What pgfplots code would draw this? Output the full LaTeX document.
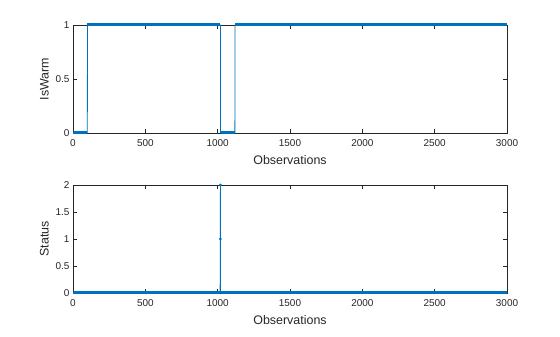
\documentclass[border=0pt]{standalone}
\usepackage{pgfplots}
\pgfplotsset{compat=1.18}
\usepackage{fontspec}
\setmainfont{Liberation Sans}
\definecolor{mblue}{rgb}{0,0.447,0.741}
\definecolor{axgray}{rgb}{0.15,0.15,0.15}
\pgfplotsset{
  myax/.style={
    scale only axis, width=434bp, height=108bp, anchor=south west,
    xmin=0, xmax=3000,
    xtick={0,500,...,3000},
    tick align=inside,
    major tick length=4bp,
    axis line style={axgray, line width=0.5bp},
    tick style={axgray, line width=0.5bp},
    every tick label/.append style={font=\fontsize{10}{12}\selectfont, text=axgray},
    label style={font=\fontsize{12.5}{14}\selectfont, text=axgray},
    /pgf/number format/assume math mode=true,
    /pgf/number format/1000 sep={},
    scaled ticks=false,
    xticklabel style={yshift=-3bp},
    xlabel={Observations},
    xlabel style={yshift=-2bp},
    ylabel style={yshift=0bp},
    clip=false,
  }
}
\begin{document}
\begin{tikzpicture}
\useasboundingbox (0,0) rectangle (560bp,337bp);
\begin{axis}[myax, at={(73bp,204bp)}, ymin=0, ymax=1, ytick={0,0.5,1},
  yticklabels={0,0.5,1}, ylabel={IsWarm}]
\addplot[mblue, line width=0.8bp] coordinates {(0,0)(99,0)(100,1)(1019,1)(1020,0)(1119,0)(1120,1)(3000,1)};
\addplot[mblue, line width=3bp] coordinates {(0,0)(99,0)};
\addplot[mblue, line width=3bp] coordinates {(100,1)(1019,1)};
\addplot[mblue, line width=3bp] coordinates {(1020,0)(1119,0)};
\addplot[mblue, line width=3bp] coordinates {(1120,1)(3000,1)};
\end{axis}
\begin{axis}[myax, at={(73bp,44bp)}, ymin=0, ymax=2, ytick={0,0.5,1,1.5,2},
  yticklabels={0,0.5,1,1.5,2}, ylabel={Status}]
\addplot[mblue, line width=0.8bp] coordinates {(0,0)(1017,0)(1018,1)(1019,2)(1020,0)(3000,0)};
\addplot[mblue, line width=3bp] coordinates {(0,0)(1017,0)};
\addplot[mblue, line width=3bp] coordinates {(1020,0)(3000,0)};
\addplot[mblue, only marks, mark=*, mark size=1.2bp] coordinates {(1018,1)(1019,2)};
\end{axis}
\end{tikzpicture}
\end{document}
